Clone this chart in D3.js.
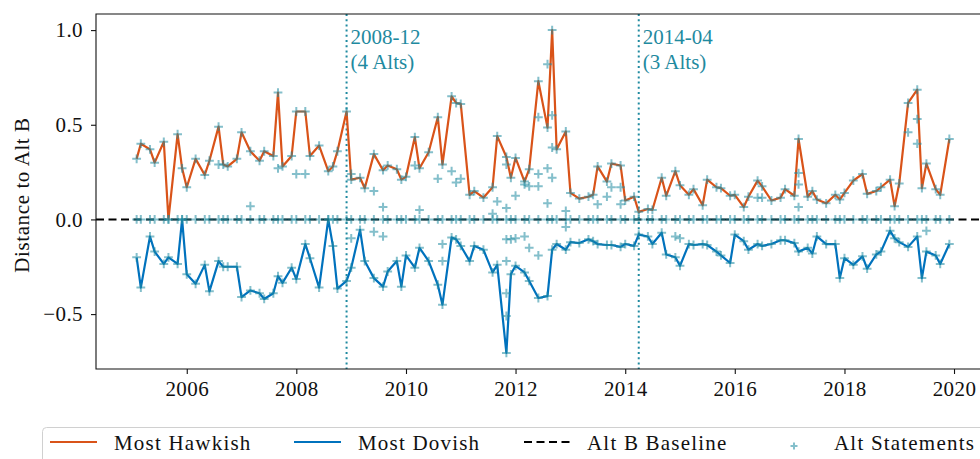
<!DOCTYPE html>
<html><head><meta charset="utf-8">
<script src="https://cdn.jsdelivr.net/npm/d3@7"></script>
<style>
body{margin:0;background:#fff;overflow:hidden}
svg{display:block}
text{font-family:"Liberation Serif","Times New Roman",serif;fill:#111}
</style>
</head><body><svg id="c" width="980" height="459"></svg>
<script>
// ---------------- data ----------------
const meetings = [
"2005-02","2005-03","2005-05","2005-06","2005-08","2005-09","2005-11","2005-12",
"2006-01","2006-03","2006-05","2006-06","2006-08","2006-09","2006-10","2006-12",
"2007-01","2007-03","2007-05","2007-06","2007-08","2007-09","2007-10","2007-12",
"2008-01","2008-03","2008-04","2008-06","2008-08","2008-09","2008-10","2008-12",
"2009-01","2009-03","2009-04","2009-06","2009-08","2009-09","2009-11","2009-12",
"2010-01","2010-03","2010-04","2010-06","2010-08","2010-09","2010-11","2010-12",
"2011-01","2011-03","2011-04","2011-06","2011-08","2011-09","2011-11","2011-12",
"2012-01","2012-03","2012-04","2012-06","2012-08","2012-09","2012-10","2012-12",
"2013-01","2013-03","2013-05","2013-06","2013-07","2013-09","2013-10","2013-12",
"2014-01","2014-03","2014-04","2014-06","2014-07","2014-09","2014-10","2014-12",
"2015-01","2015-03","2015-04","2015-06","2015-07","2015-09","2015-10","2015-12",
"2016-01","2016-03","2016-04","2016-06","2016-07","2016-09","2016-11","2016-12",
"2017-02","2017-03","2017-05","2017-06","2017-07","2017-09","2017-11","2017-12",
"2018-01","2018-03","2018-05","2018-06","2018-08","2018-09","2018-11","2018-12",
"2019-01","2019-03","2019-05","2019-06","2019-07","2019-09","2019-10","2019-12"];

const mostHawkish = [
0.32,0.40,0.37,0.30,0.41,0.00,0.45,0.27,
0.17,0.32,0.235,0.31,0.49,0.29,0.28,0.32,
0.46,0.36,0.31,0.36,0.335,0.67,0.28,0.335,
0.57,0.57,0.335,0.39,0.255,0.28,0.36,0.57,
0.21,0.22,0.165,0.345,0.26,0.285,0.265,0.21,
0.225,0.435,0.27,0.355,0.54,0.29,0.65,0.615,
0.61,0.13,0.15,0.115,0.17,0.44,0.33,0.22,
0.325,0.20,0.265,0.73,0.485,1.00,0.37,0.465,
0.14,0.11,0.12,0.13,0.28,0.20,0.295,0.285,
0.10,0.12,0.04,0.055,0.05,0.22,0.125,0.255,
0.18,0.13,0.16,0.075,0.21,0.17,0.165,0.125,
0.13,0.065,0.12,0.205,0.175,0.10,0.115,0.16,
0.125,0.425,0.12,0.15,0.105,0.085,0.13,0.105,
0.14,0.205,0.24,0.135,0.15,0.17,0.21,0.07,
0.19,0.615,0.685,0.165,0.295,0.16,0.13,0.425];

const mostDovish = [
-0.20,-0.36,-0.09,-0.17,-0.235,-0.20,-0.235,0.00,
-0.29,-0.34,-0.24,-0.38,-0.22,-0.25,-0.25,-0.25,
-0.41,-0.375,-0.39,-0.42,-0.39,-0.30,-0.335,-0.255,
-0.315,-0.13,-0.205,-0.36,0.00,-0.14,-0.365,-0.325,
-0.255,-0.055,-0.22,-0.31,-0.355,-0.275,-0.22,-0.355,
-0.19,-0.255,-0.15,-0.22,-0.345,-0.45,-0.095,-0.105,
-0.14,-0.22,-0.14,-0.16,-0.28,-0.24,-0.705,-0.29,
-0.245,-0.28,-0.325,-0.415,-0.405,-0.16,-0.13,-0.16,
-0.12,-0.125,-0.105,-0.115,-0.13,-0.135,-0.135,-0.145,
-0.13,-0.14,-0.08,-0.09,-0.13,-0.07,-0.185,-0.20,
-0.245,-0.13,-0.135,-0.13,-0.135,-0.17,-0.19,-0.23,
-0.08,-0.115,-0.16,-0.13,-0.14,-0.13,-0.11,-0.11,
-0.125,-0.17,-0.15,-0.18,-0.09,-0.13,-0.13,-0.31,
-0.205,-0.24,-0.195,-0.26,-0.185,-0.17,-0.06,-0.10,
-0.12,-0.145,-0.09,-0.31,-0.17,-0.19,-0.235,-0.13];

// other alternative statements (besides Alt B, most hawkish, most dovish)
const otherAltDates = [
"2006-08","2007-03","2007-09","2008-01","2008-03","2009-01","2009-01","2009-06","2009-06",
"2009-08","2009-08","2010-03","2010-04","2010-08","2010-09","2010-09","2010-11","2010-12",
"2011-01","2011-08","2011-09","2011-11","2011-11","2011-11","2011-11","2011-11","2011-11",
"2011-12","2012-01","2012-01","2012-03","2012-03","2012-04","2012-04","2012-06","2012-06",
"2012-06","2012-06","2012-08","2012-08","2012-08","2012-09","2012-09","2012-09","2012-12",
"2012-12","2013-07","2013-09","2013-10","2013-12","2013-12","2014-12","2015-01","2016-06",
"2016-07","2017-03","2017-03","2017-03","2019-03","2019-05","2019-05","2019-07"];
const otherAltValues = [
0.29,0.07,0.27,0.24,0.24,0.24,-0.10,0.15,-0.065,
0.065,-0.09,0.285,0.05,0.215,-0.13,-0.22,0.255,0.195,
0.215,0.03,0.095,0.06,0.29,-0.22,-0.39,-0.51,-0.105,
-0.105,0.125,-0.10,0.185,-0.09,0.175,-0.15,0.54,0.24,
0.175,-0.19,0.82,0.27,0.085,0.55,0.38,0.22,0.045,
-0.04,0.08,0.12,0.17,0.17,0.08,-0.09,-0.10,0.115,
0.115,0.245,0.185,0.065,0.46,0.53,0.40,-0.06];

const markers = ["2008-12","2014-04"];
const markerLabels = [["2008-12","(4 Alts)"],["2014-04","(3 Alts)"]];

const xTickYears = ["2006","2008","2010","2012","2014","2016","2018","2020"];
const yTickValues = [-0.5,0.0,0.5,1.0];

const legendLabels = ["Most Hawkish","Most Dovish","Alt B Baseline","Alt Statements"];

// ---------------- drawing ----------------
const C_HAWK = "#d95319", C_DOVE = "#0072bd", C_ALT = "#1f8aa0";
const svg = d3.select("#c");
const L = 96, R = 990, T = 14, B = 369;

const parse = d3.timeParse("%Y-%m");
const dts = meetings.map(parse);
const t0 = dts[0], t1 = dts[dts.length-1], span = t1 - t0;
const x = d3.scaleTime()
  .domain([new Date(+t0 - 0.05*span), new Date(+t1 + 0.05*span)])
  .range([L, R]);
const y = d3.scaleLinear().domain([-0.79, 1.085]).range([B, T]);

svg.append("defs").append("clipPath").attr("id","clip")
  .append("rect").attr("x",L).attr("y",T).attr("width",R-L).attr("height",B-T);

const plot = svg.append("g").attr("clip-path","url(#clip)");

// vertical marker lines
plot.selectAll("line.mk").data(markers).join("line").attr("class","mk")
  .attr("x1",d=>x(parse(d))).attr("x2",d=>x(parse(d)))
  .attr("y1",T).attr("y2",B)
  .attr("stroke",C_ALT).attr("stroke-width",2).attr("stroke-dasharray","2,3.2");

const line = d3.line().x((d,i)=>x(dts[i])).y(d=>y(d));
plot.append("path").datum(mostHawkish).attr("d",line)
  .attr("fill","none").attr("stroke",C_HAWK).attr("stroke-width",2.2).attr("stroke-linejoin","round");
plot.append("path").datum(mostDovish).attr("d",line)
  .attr("fill","none").attr("stroke",C_DOVE).attr("stroke-width",2.2).attr("stroke-linejoin","round");

// Alt B baseline
plot.append("line").attr("x1",L).attr("x2",R).attr("y1",y(0)).attr("y2",y(0))
  .attr("stroke","#000").attr("stroke-width",2).attr("stroke-dasharray","8,4.5");

// Alt statements scatter
const pts = [];
dts.forEach((d,i)=>{
  pts.push([d,0]);
  pts.push([d,mostHawkish[i]]);
  pts.push([d,mostDovish[i]]);
});
otherAltDates.forEach((d,i)=>pts.push([parse(d),otherAltValues[i]]));
const cross = "M-4.4,0H4.4M0,-4.4V4.4";
plot.selectAll("path.alt").data(pts).join("path").attr("class","alt")
  .attr("d",cross).attr("transform",d=>`translate(${x(d[0])},${y(d[1])})`)
  .attr("stroke",C_ALT).attr("stroke-opacity",0.55).attr("stroke-width",2);

// marker labels
markerLabels.forEach((m,i)=>{
  const tx = x(parse(markers[i])) + 4;
  const g = svg.append("text").attr("x",tx).attr("y",44).style("font-size","21px").style("fill",C_ALT);
  g.append("tspan").attr("x",tx).text(m[0]);
  g.append("tspan").attr("x",tx).attr("dy",25).text(m[1]);
});

// axes
const xAxis = d3.axisBottom(x)
  .tickValues(xTickYears.map(s=>d3.timeParse("%Y")(s)))
  .tickFormat(d3.timeFormat("%Y")).tickSize(5).tickPadding(7);
const gx = svg.append("g").attr("transform",`translate(0,${B})`).call(xAxis);
const yAxis = d3.axisLeft(y).tickValues(yTickValues).tickFormat(d3.format(".1f")).tickSize(5).tickPadding(8);
const gy = svg.append("g").attr("transform",`translate(${L},0)`).call(yAxis);
[gx,gy].forEach(g=>{
  g.select(".domain").remove();
  g.selectAll(".tick line").attr("stroke","#111").attr("stroke-width",1.1);
  g.selectAll(".tick text").style("font-size","21px").style("font-family","Liberation Serif, serif")
    .style("letter-spacing","0.4px").attr("fill","#111");
});

// spines
svg.append("path").attr("d",`M${R},${T}H${L}V${B}H${R}`)
  .attr("fill","none").attr("stroke","#111").attr("stroke-width",1.1);

// y label
svg.append("text").attr("transform",`translate(29,195) rotate(-90)`)
  .attr("text-anchor","middle").style("font-size","21px").style("letter-spacing","0.6px").text("Distance to Alt B");

// legend
const lg = svg.append("g");
lg.append("rect").attr("x",42.5).attr("y",427.5).attr("width",960).attr("height",50).attr("rx",4)
  .attr("fill","#fff").attr("fill-opacity",0.8).attr("stroke","#d0d0d0").attr("stroke-width",1);
const lx = [[50,114],[294,358],[524,587],[794,834]];
const ly = 442;
lg.append("line").attr("x1",lx[0][0]).attr("x2",lx[0][0]+47).attr("y1",ly).attr("y2",ly).attr("stroke",C_HAWK).attr("stroke-width",2.2);
lg.append("line").attr("x1",lx[1][0]).attr("x2",lx[1][0]+47).attr("y1",ly).attr("y2",ly).attr("stroke",C_DOVE).attr("stroke-width",2.2);
lg.append("line").attr("x1",lx[2][0]).attr("x2",lx[2][0]+46).attr("y1",ly).attr("y2",ly).attr("stroke","#000").attr("stroke-width",2).attr("stroke-dasharray","8,4.5");
lg.append("path").attr("d","M-3.5,0H3.5M0,-3.5V3.5").attr("transform",`translate(${lx[3][0]},${ly+4})`)
  .attr("stroke",C_ALT).attr("stroke-opacity",0.55).attr("stroke-width",2);
legendLabels.forEach((t,i)=>{
  lg.append("text").attr("x",lx[i][1]).attr("y",450).style("font-size","21px")
    .style("letter-spacing","1.2px").text(t);
});
</script></body></html>
